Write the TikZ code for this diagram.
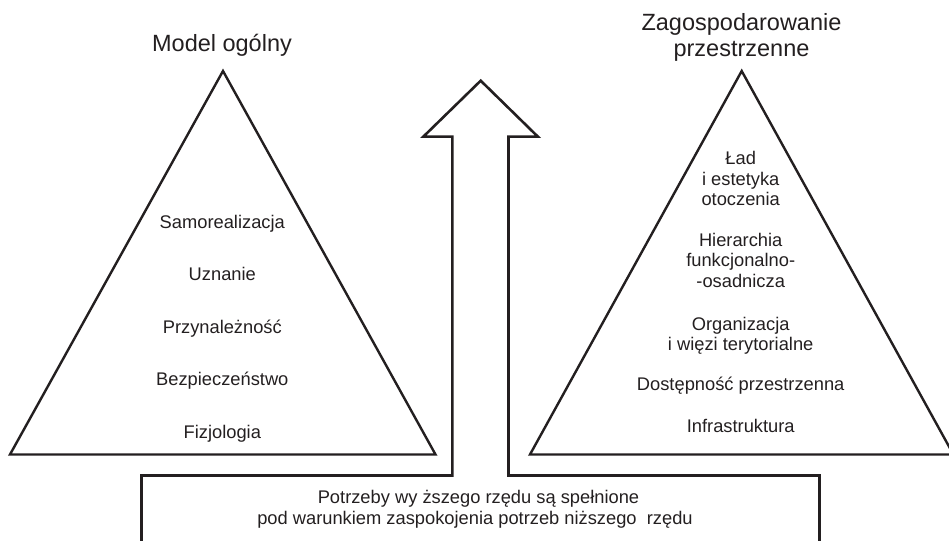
\documentclass[tikz,border=0pt]{standalone}
\usepackage{fontspec}
\setmainfont{Liberation Sans}
\definecolor{ink}{HTML}{231F20}
\begin{document}
\begin{tikzpicture}[x=1pt,y=-1pt,
  outline/.style={draw=ink,line width=2.4pt,line join=miter},
  item/.style={anchor=base,inner sep=0pt,text=ink,font=\fontsize{18.3}{21}\selectfont},
  heading/.style={anchor=base,inner sep=0pt,text=ink,font=\fontsize{23.5}{26}\selectfont}]
\clip (0,0) rectangle (949,540);

% general pyramid
\draw[outline] (223,71) -- (10,454.5) -- (435.5,454.5) -- cycle;
% spatial planning pyramid
\draw[outline] (741.7,71) -- (530,454.5) -- (953.4,454.5) -- cycle;
% upward arrow rising out of the bottom frame
\draw[outline,line width=2.6pt]
  (141.5,548) -- (141.5,475.5) -- (452.3,475.5) -- (452.3,136.7)
  -- (423.3,136.7) -- (480.7,80.7) -- (537.9,136.7) -- (508.5,136.7)
  -- (508.5,475.5) -- (819.5,475.5) -- (819.5,548);

% headings
\node[heading] (tl) at (222,52) {Model ogólny};
\node[heading] (tr1) at (741.5,30.5) {Zagospodarowanie};
\node[heading] (tr2) at (741.5,56.7) {przestrzenne};

% levels of the general model
\node[item] (l5) at (222.3,228) {Samorealizacja};
\node[item] (l4) at (222.3,280.5) {Uznanie};
\node[item] (l3) at (222.3,333.2) {Przynależność};
\node[item] (l2) at (222.3,385.5) {Bezpieczeństwo};
\node[item] (l1) at (222.3,438.3) {Fizjologia};

% levels of spatial planning
\node[item] (r5a) at (740.7,164.3) {Ład};
\node[item] (r5b) at (740.7,185) {i estetyka};
\node[item] (r5c) at (740.7,205.3) {otoczenia};
\node[item] (r4a) at (740.7,246.7) {Hierarchia};
\node[item] (r4b) at (740.7,266.9) {funkcjonalno-};
\node[item] (r4c) at (740.7,287.2) {-osadnicza};
\node[item] (r3a) at (740.7,330) {Organizacja};
\node[item] (r3b) at (740.7,350.3) {i więzi terytorialne};
\node[item] (r2) at (740.7,390.3) {Dostępność przestrzenna};
\node[item] (r1) at (740.7,432.3) {Infrastruktura};

% condition in the bottom frame
\node[item] (b1) at (478.5,503.5) {Potrzeby wy ższego rzędu są spełnione};
\node[item] (b2) at (475,524.5) {pod warunkiem zaspokojenia potrzeb niższego\ \ rzędu};
\end{tikzpicture}
\end{document}
